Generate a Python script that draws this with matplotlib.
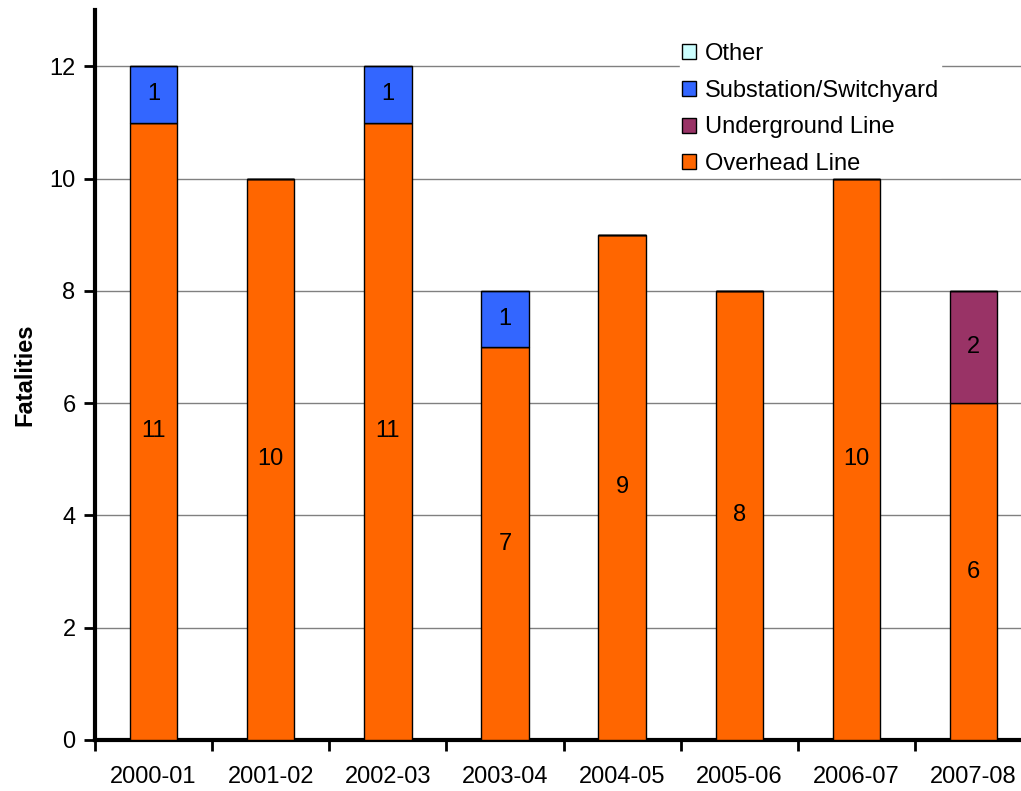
import matplotlib
matplotlib.use("Agg")
import matplotlib.pyplot as plt
import numpy as np

plt.rcParams['font.family'] = ['Liberation Sans', 'DejaVu Sans']

years = ["2000-01", "2001-02", "2002-03", "2003-04", "2004-05", "2005-06", "2006-07", "2007-08"]
overhead = [11, 10, 11, 7, 9, 8, 10, 6]
underground = [0, 0, 0, 0, 0, 0, 0, 2]
substation = [1, 0, 1, 1, 0, 0, 0, 0]
other = [0, 0, 0, 0, 0, 0, 0, 0]

series = [
    ("Overhead Line", overhead, "#FF6600"),
    ("Underground Line", underground, "#993366"),
    ("Substation/Switchyard", substation, "#3366FF"),
    ("Other", other, "#CCFFFF"),
]

fs = 17

fig = plt.figure(figsize=(10.21, 7.91), dpi=100)
ax = fig.add_axes([0.093, 0.0645, 0.918, 0.9225])

x = np.arange(len(years))
bottom = np.zeros(len(years))
handles = []
for name, vals, col in series:
    vals = np.array(vals, dtype=float)
    b = ax.bar(x, vals, width=0.405, bottom=bottom, color=col, edgecolor="black",
               linewidth=1, label=name, zorder=3)
    handles.append(b)
    for xi, v, bt in zip(x, vals, bottom):
        if v > 0:
            ax.text(xi, bt + v / 2, f"{int(v)}", ha="center", va="center",
                    fontsize=fs, zorder=4)
    bottom += vals

ax.set_xlim(-0.5, len(years) - 0.5)
ax.set_ylim(0, 13)
ax.set_yticks(range(0, 13, 2))
ax.tick_params(axis="y", labelsize=fs, length=8, width=2, direction="out", pad=6)
ax.set_xticks(x)
ax.set_xticklabels(years, fontsize=fs)
ax.tick_params(axis="x", length=0, pad=19)
ax.set_xticks(np.arange(-0.5, len(years), 1), minor=True)
ax.tick_params(axis="x", which="minor", length=8, width=2, direction="out")
ax.set_ylabel("Fatalities", fontsize=fs, fontweight="bold", labelpad=9)

ax.yaxis.grid(True, color="#808080", linewidth=1, zorder=0)
for s in ["top", "right"]:
    ax.spines[s].set_visible(False)
ax.spines["left"].set_linewidth(3)
ax.spines["bottom"].set_linewidth(3)

leg = ax.legend(handles[::-1], [s[0] for s in series][::-1], loc="upper left",
                bbox_to_anchor=(0.6115, 0.9744), fontsize=fs, frameon=True,
                framealpha=1, edgecolor="white", fancybox=False,
                handlelength=0.6, handleheight=0.6,
                handletextpad=0.35, labelspacing=0.62, borderpad=0.1)
leg.set_zorder(5)

fig.savefig("out.png", dpi=100)
